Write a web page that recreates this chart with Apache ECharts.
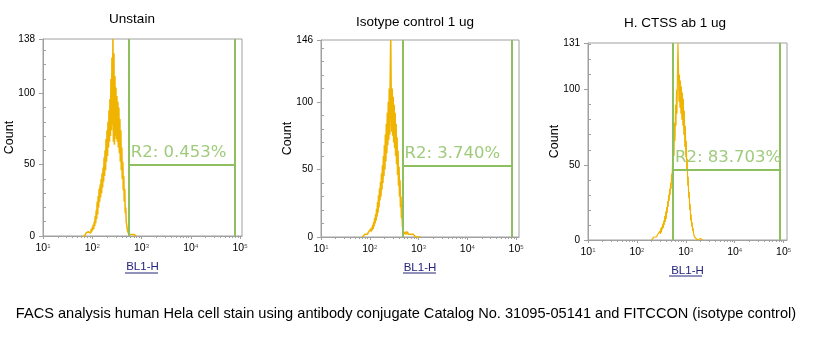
<!DOCTYPE html>
<html>
<head>
<meta charset="utf-8">
<script src="https://cdn.jsdelivr.net/npm/echarts@6/dist/echarts.min.js"></script>
<style>
html,body{margin:0;padding:0;background:#fff;}
#chart{width:827px;height:350px;}
</style>
</head>
<body>
<div id="chart"></div>
<script>
// ---- data ----
const titles = ['Unstain', 'Isotype control 1 ug', 'H. CTSS ab 1 ug'];
const yMax = [138, 146, 131];
const yTickLabels = [[0, 50, 100, 138], [0, 50, 100, 146], [0, 50, 100, 131]];
const xTickExponents = [1, 2, 3, 4, 5];
const binStep = 0.01;               // channel width in decades
const binStart = [1.80, 1.85, 2.30]; // log10 of first channel shown

const unstainCounts = [
  0,0,1,0,1,0,1,2,1,1, 2,1,3,2,2,3,4,2,5,3,
  6,4,8,5,10,7,14,9,18,12, 24,15,28,20,33,24,36,27,40,30,
  44,34,48,38,55,42,60,46,68,52, 74,56,80,62,88,66,96,70,110,74,
  125,78,138,66,128,64,112,70,104,68, 98,66,94,62,90,58,82,52,74,46,
  62,40,52,32,42,24,33,16,20,10, 9,5,3,2,2,1,2,1,1,0,
  1,1,0,1,0,1,0,0,1,0, 0
];
const isotypeCounts = [
  0,1,0,1,1,2,1,2,1,3, 2,3,2,4,3,5,3,6,4,7,
  5,9,6,11,8,14,10,17,12,21, 15,26,18,31,22,36,27,41,30,47,
  35,53,40,60,45,68,50,76,56,84, 62,92,68,100,72,110,76,118,146,100,
  78,110,75,104,70,98,66,92,60,84, 54,74,46,64,38,52,30,42,22,30,
  14,18,8,8,4,5,3,4,2,4, 3,2,4,3,2,3,2,3,1,2,
  3,1,2,1,2,1,1,2,1,0, 1,1,0,1,0,1,0,0,1,0, 0
];
const ctssCounts = [
  0,1,0,1,1,2,1,2,1,3, 2,3,2,4,3,5,3,6,4,8,
  5,9,7,11,8,13,10,16,12,19, 14,22,18,26,22,30,26,34,30,38,
  34,44,40,52,48,66,56,78,66,90, 76,100,84,112,131,115,92,110,88,106,
  84,102,80,98,76,94,70,86,62,76, 55,66,46,54,36,42,28,32,20,24,
  13,17,9,12,6,8,4,5,2,3, 1,2,1,1,0,1,0,1,0,0,
  1,0,0,0,0,0
];
const histCounts = [unstainCounts, isotypeCounts, ctssCounts];

const gateLeft = [2.74, 2.67, 2.74];
const gateRight = [4.90, 4.91, 4.92];
const gateLevel = [50, 53, 47];
const gateLabels = ['R2: 0.453%', 'R2: 3.740%', 'R2: 83.703%'];

// ---- layout ----
const gridLeft = [43, 321, 588];
const gridTop = [39, 40, 43];
const gridWidth = [199, 198, 199];
const gridHeight = 197;
const xMax = [5.04, 5.06, 5.07];
const titlePos = [[132, 19], [415, 22], [675, 23]];
const histWidth = [1.6, 1.6, 1.2];

const AXIS = '#a0a0a0';
const HIST = '#f0b300';
const GATE = '#8dbf5f';
const GATE_TXT = '#9fcb7b';
const FONT = 'Liberation Sans, Arial, sans-serif';

const minorX = [];
for (let d = 1; d < 5; d++) for (let k = 2; k <= 9; k++) minorX.push(d + Math.log10(k));
function minorY(max) { const r = []; for (let v = 10; v < max; v += 10) if (v % 50) r.push(v); return r; }

const grids = [], xAxes = [], yAxes = [], series = [];
for (let p = 0; p < 3; p++) {
  grids.push({left: gridLeft[p], top: gridTop[p], width: gridWidth[p], height: gridHeight,
    show: true, borderColor: AXIS, borderWidth: 1, backgroundColor: 'transparent'});
  xAxes.push({type: 'value', gridIndex: p, min: 1, max: xMax[p],
    axisLine: {lineStyle: {color: AXIS}}, splitLine: {show: false},
    axisTick: {customValues: xTickExponents, length: 3, lineStyle: {color: AXIS}},
    axisLabel: {customValues: xTickExponents, margin: 7, color: '#000',
      formatter: v => '{b|10}{s|' + v + '}',
      rich: {b: {fontSize: 10.5, fontFamily: FONT, color: '#000'},
             s: {fontSize: 6, fontFamily: FONT, color: '#555', verticalAlign: 'top', lineHeight: 6}}},
    name: 'BL1-H', nameLocation: 'middle', nameGap: 25, nameMoveOverlap: false,
    nameTextStyle: {color: '#24247e', fontSize: 11.5, fontFamily: FONT}});
  xAxes.push({type: 'value', gridIndex: p, min: 1, max: xMax[p], position: 'bottom',
    axisLine: {show: false}, splitLine: {show: false}, axisLabel: {show: false},
    axisTick: {customValues: minorX, length: 2, lineStyle: {color: AXIS}}});
  yAxes.push({type: 'value', gridIndex: p, min: 0, max: yMax[p],
    axisLine: {show: true, lineStyle: {color: AXIS}}, splitLine: {show: false},
    axisTick: {show: true, customValues: yTickLabels[p], length: 4, lineStyle: {color: AXIS}},
    axisLabel: {customValues: yTickLabels[p], margin: 8, fontSize: 10, fontFamily: FONT, color: '#000'},
    name: 'Count', nameLocation: 'middle', nameGap: 27, nameMoveOverlap: false,
    nameTextStyle: {color: '#000', fontSize: 12.5, fontFamily: FONT}});
  yAxes.push({type: 'value', gridIndex: p, min: 0, max: yMax[p], position: 'left',
    axisLine: {show: false}, splitLine: {show: false}, axisLabel: {show: false},
    axisTick: {show: true, inside: true, customValues: minorY(yMax[p]), length: 3, lineStyle: {color: AXIS}}});

  const data = histCounts[p].map((c, i) => [binStart[p] + i * binStep, c]);
  series.push({type: 'line', xAxisIndex: p * 2, yAxisIndex: p * 2, data: data,
    showSymbol: false, symbol: 'none', lineStyle: {color: HIST, width: histWidth[p]}, z: 2, animation: false,
    markLine: {silent: true, symbol: 'none', animation: false,
      lineStyle: {color: GATE, width: 2, type: 'solid'},
      label: {show: false},
      data: [
        [{coord: [gateLeft[p], 0]}, {coord: [gateLeft[p], yMax[p]]}],
        [{coord: [gateRight[p], 0]}, {coord: [gateRight[p], yMax[p]]}],
        [{coord: [gateLeft[p], gateLevel[p]],
          label: {show: true, formatter: gateLabels[p], position: 'insideStartTop', distance: [2, 3],
            color: GATE_TXT, fontSize: 16.5, fontFamily: 'DejaVu Sans, sans-serif'}},
         {coord: [gateRight[p], gateLevel[p]]}]
      ]}});
}

const underline = [[125, 158, 273], [403, 436, 273], [669, 702, 276]];

const chart = echarts.init(document.getElementById('chart'), null, {renderer: 'canvas'});
const g = [];
for (let p = 0; p < 3; p++) {
  g.push({type: 'text', x: titlePos[p][0], y: titlePos[p][1],
    style: {text: titles[p], fontSize: 13.5, fontFamily: FONT, fill: '#000', align: 'center', verticalAlign: 'middle'}});
  g.push({type: 'line', shape: {x1: underline[p][0], y1: underline[p][2], x2: underline[p][1], y2: underline[p][2]},
    style: {stroke: '#24247e', lineWidth: 1}});
}
g.push({type: 'text', x: 406, y: 314,
  style: {text: 'FACS analysis human Hela cell stain using antibody conjugate Catalog No. 31095-05141 and FITCCON (isotype control)',
    fontSize: 14.6, fontFamily: FONT, fill: '#000', align: 'center', verticalAlign: 'middle'}});

chart.setOption({
  animation: false,
  backgroundColor: '#fff',
  grid: grids, xAxis: xAxes, yAxis: yAxes, series: series,
  graphic: g
});
</script>
</body>
</html>
